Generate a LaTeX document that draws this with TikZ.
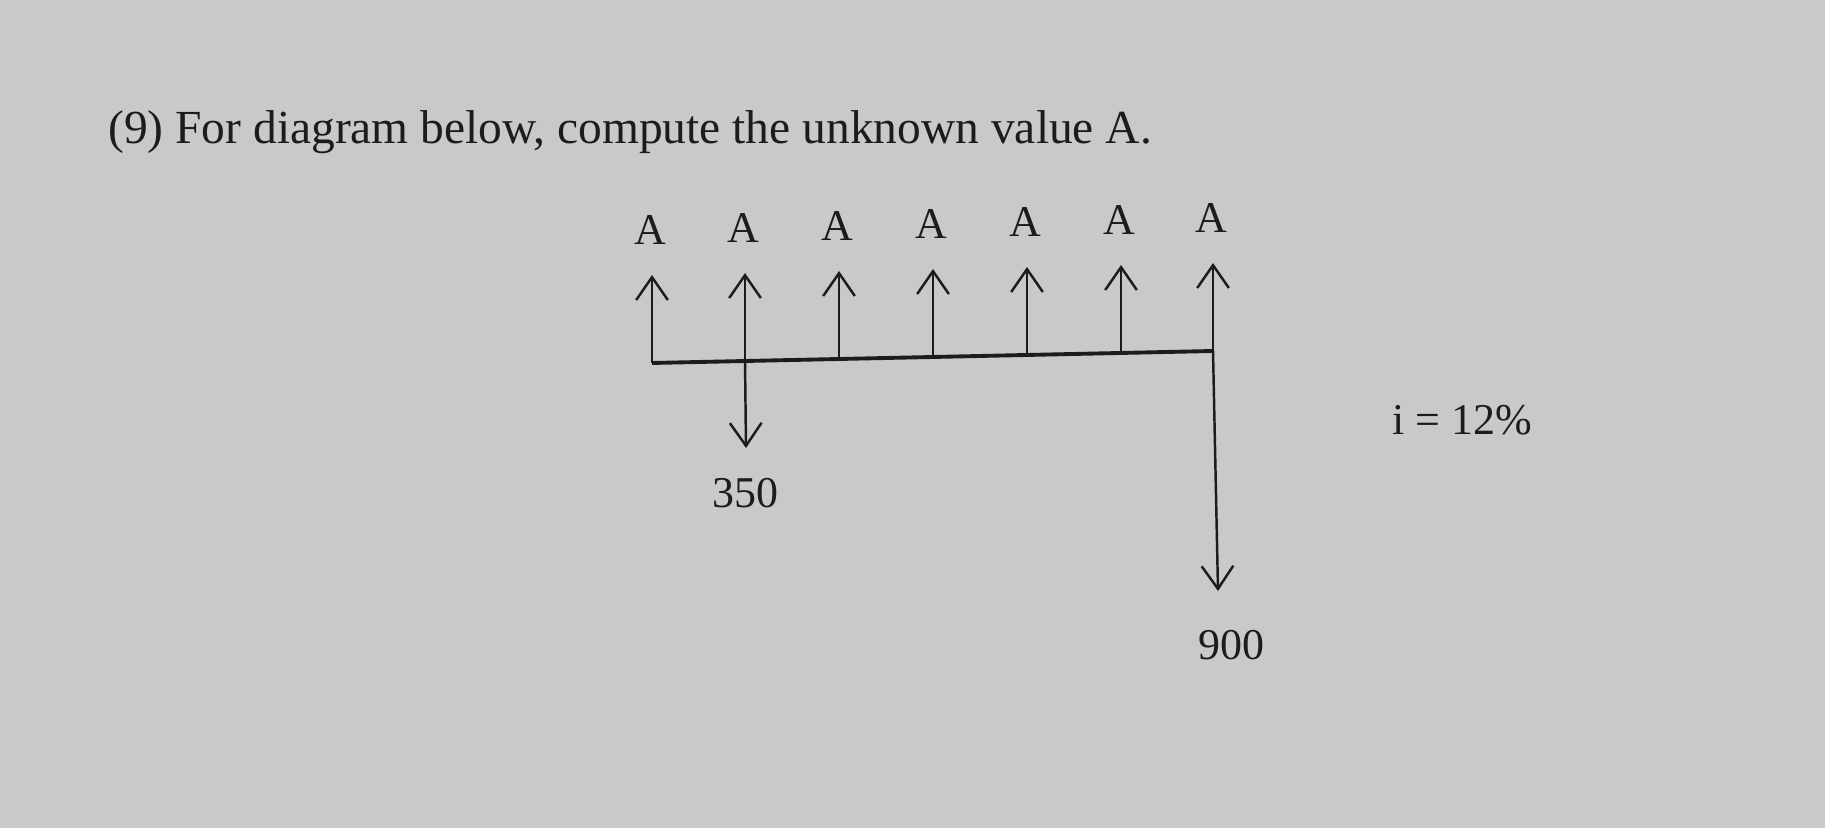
\documentclass[tikz,border=0pt]{standalone}
\usepackage{fontspec}
\setmainfont{Liberation Serif}
\usetikzlibrary{arrows.meta}
\definecolor{paper}{RGB}{201,201,204}
\definecolor{ink}{RGB}{28,28,30}
\tikzset{>={Straight Barb[length=6.5pt,width=9pt]}}

\begin{document}
\begin{tikzpicture}[x=0.01cm, y=-0.01cm, font=\fontsize{12.5pt}{15pt}\selectfont, color=ink, line width=0.7pt]

\fill[paper] (0,0) rectangle (1825,828);
\useasboundingbox (0,0) rectangle (1825,828);

\node[anchor=base west, inner sep=0pt, font=\fontsize{13.5pt}{16pt}\selectfont] (title) at (107,144) {(9) For diagram below, compute the unknown value A.};

% cash flow line, slightly tilted as in the photo
\foreach \i/\x/\y in {1/652/363, 2/745/361, 3/839/359, 4/933/357, 5/1027/355, 6/1121/353, 7/1213/351}{
  \coordinate (b\i) at (\x, \y);
  \coordinate (t\i) at (\x, \y-88);
  \node[anchor=base, inner sep=0pt] (a\i) at (\x-2, \y-118) {A};
  \draw[->] (b\i) -- (t\i);
}

\draw[line width=1.1pt] (b1) -- (b7);

\coordinate (d350) at (746, 448);
\coordinate (d900) at (1218, 591);
\draw[->] (b2) -- (d350);
\draw[->] (b7) -- (d900);

\node[anchor=base, inner sep=0pt] (v350) at (745, 508) {350};
\node[anchor=base, inner sep=0pt] (v900) at (1231, 659) {900};
\node[anchor=base west, inner sep=0pt] (rate) at (1391, 435) {i = 12\%};

\end{tikzpicture}
\end{document}
